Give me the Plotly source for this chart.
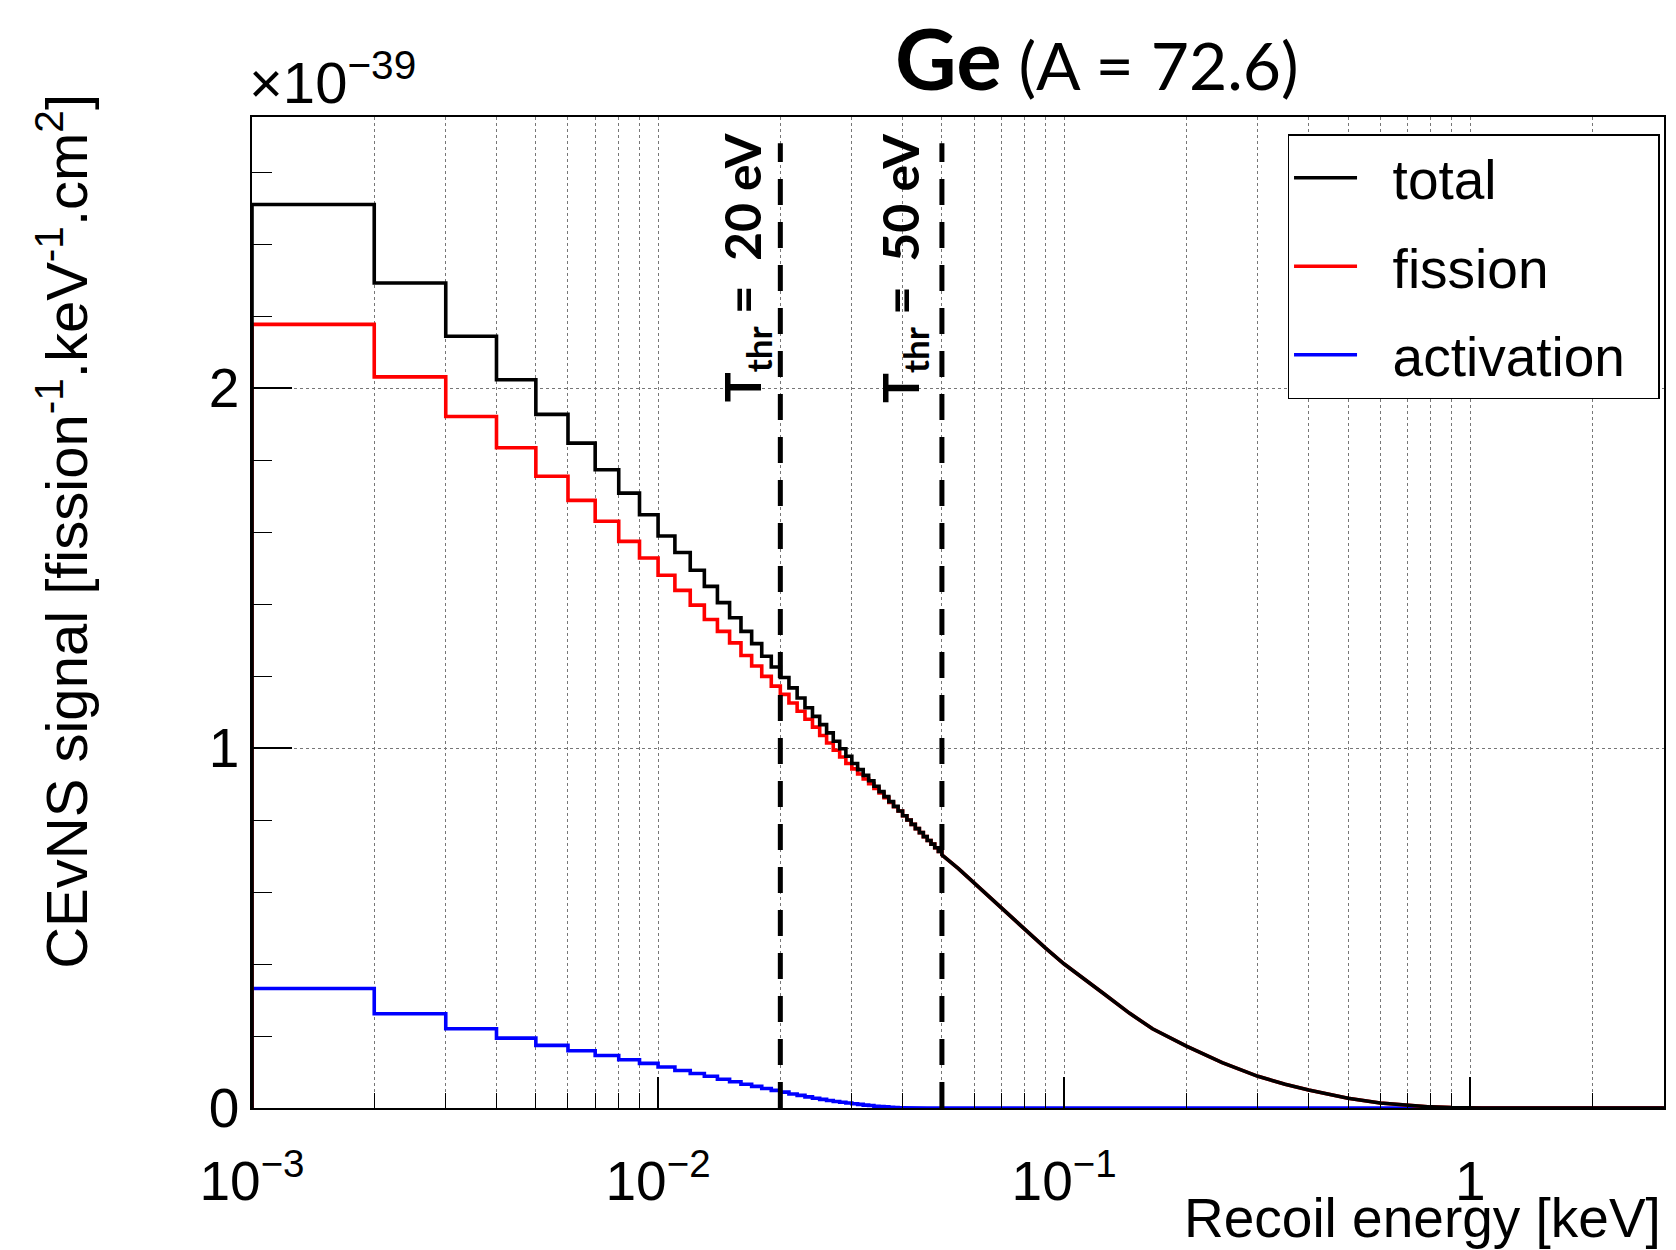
import math
import plotly.graph_objects as go

# ---------------- data (values in units of 1e-39 fission^-1 keV^-1 cm^2) ----------------
BIN_WIDTH_KEV = 0.001
BIN_LOW_KEV = [0.001, 0.002, 0.003, 0.004, 0.005, 0.006, 0.007, 0.008, 0.009, 0.010,
               0.011, 0.012, 0.013, 0.014, 0.015, 0.016, 0.017, 0.018, 0.019, 0.020,
               0.021, 0.022, 0.023, 0.024, 0.025, 0.026, 0.027, 0.028, 0.029, 0.030,
               0.031, 0.032, 0.033, 0.034, 0.035, 0.036, 0.037, 0.038, 0.039, 0.040,
               0.041, 0.042, 0.043, 0.044, 0.045, 0.046, 0.047, 0.048, 0.049]

TOTAL_BINS = [2.510, 2.292, 2.144, 2.023, 1.927, 1.847, 1.773, 1.708, 1.648, 1.589,
              1.543, 1.494, 1.449, 1.404, 1.362, 1.324, 1.290, 1.255, 1.225, 1.196,
              1.167, 1.139, 1.112, 1.088, 1.065, 1.042, 1.019, 0.998, 0.977, 0.957,
              0.940, 0.924, 0.909, 0.894, 0.879, 0.865, 0.851, 0.838, 0.825, 0.812,
              0.800, 0.788, 0.776, 0.765, 0.754, 0.743, 0.733, 0.723, 0.713]

FISSION_BINS = [2.177, 2.031, 1.921, 1.834, 1.755, 1.688, 1.630, 1.574, 1.528, 1.480,
                1.438, 1.397, 1.357, 1.324, 1.292, 1.257, 1.228, 1.199, 1.172, 1.149,
                1.125, 1.102, 1.080, 1.058, 1.035, 1.014, 0.994, 0.975, 0.957, 0.942,
                0.928, 0.914, 0.901, 0.888, 0.875, 0.862, 0.849, 0.837, 0.825, 0.812,
                0.800, 0.788, 0.776, 0.765, 0.754, 0.743, 0.733, 0.723, 0.713]

ACTIVATION_BINS = [0.332, 0.262, 0.220, 0.194, 0.174, 0.159, 0.146, 0.134, 0.124, 0.114,
                   0.104, 0.096, 0.088, 0.080, 0.073, 0.066, 0.060, 0.054, 0.049, 0.044,
                   0.039, 0.035, 0.031, 0.027, 0.024, 0.021, 0.018, 0.016, 0.014, 0.012,
                   0.010, 0.008, 0.007, 0.005, 0.004, 0.003, 0.002, 0.001, 0.0005, 0.0,
                   0.0, 0.0, 0.0, 0.0, 0.0, 0.0, 0.0, 0.0, 0.0]

# above 50 eV the 1-eV bins are too narrow to see: the curve is read point by point
TAIL_KEV = [0.05, 0.055, 0.06, 0.065, 0.07, 0.075, 0.08, 0.09, 0.10, 0.11, 0.125, 0.145,
            0.165, 0.20, 0.245, 0.30, 0.35, 0.40, 0.50, 0.60, 0.70, 0.80, 0.90, 1.00,
            1.07, 3.0]
TOTAL_TAIL = [0.703, 0.664, 0.625, 0.590, 0.556, 0.524, 0.495, 0.444, 0.400, 0.364, 0.318, 0.263,
              0.220, 0.172, 0.126, 0.088, 0.066, 0.050, 0.027, 0.014, 0.007, 0.003, 0.001, 0.0005,
              0.0, 0.0]
FISSION_TAIL = [0.703, 0.664, 0.625, 0.590, 0.556, 0.524, 0.495, 0.444, 0.400, 0.364, 0.318, 0.263,
                0.220, 0.172, 0.126, 0.088, 0.066, 0.050, 0.027, 0.014, 0.007, 0.003, 0.001, 0.0005,
                0.0, 0.0]
ACTIVATION_TAIL = [0.0, 0.0, 0.0, 0.0, 0.0, 0.0, 0.0, 0.0, 0.0, 0.0, 0.0, 0.0,
                   0.0, 0.0, 0.0, 0.0, 0.0, 0.0, 0.0, 0.0, 0.0, 0.0, 0.0, 0.0,
                   0.0, 0.0]

SERIES_NAMES = ["total", "fission", "activation"]
SERIES_COLORS = ["#000000", "#ff0000", "#0000ff"]

THRESHOLDS_KEV = [0.02, 0.05]
THRESHOLD_TEXT = ["<b>T<sub>thr</sub> =  20 eV</b>", "<b>T<sub>thr</sub> =  50 eV</b>"]

X_TICK_VALS = [0.001, 0.01, 0.1, 1]
X_TICK_TEXT = ["10<sup>\u22123</sup>", "10<sup>\u22122</sup>", "10<sup>\u22121</sup>", "1"]
Y_TICK_VALS = [0, 1, 2]
Y_TICK_TEXT = ["0", "1", "2"]
X_MAX_KEV = 3.0
Y_MAX = 2.753

# ---------------- layout constants ----------------
W, H = 1676, 1250
ML, MR, MT, MB = 252, 10, 117, 142
PW, PH = W - ML - MR, H - MT - MB
ROOT_FONT = "Liberation Sans, Arial, Helvetica, sans-serif"
PPT_FONT = "Lato, Open Sans, sans-serif"
NB = "\u00a0"


def px_x(px):
    return (px - ML) / PW


def px_y(py):
    return (H - MB - py) / PH


def hist_path(lows, vals, tail_x, tail_y):
    xs, ys = [lows[0]], [0.0]
    for lo, v in zip(lows, vals):
        xs += [lo, lo + BIN_WIDTH_KEV]
        ys += [v, v]
    return xs + list(tail_x), ys + list(tail_y)


fig = go.Figure()

series = [
    (TOTAL_BINS, TOTAL_TAIL),
    (FISSION_BINS, FISSION_TAIL),
    (ACTIVATION_BINS, ACTIVATION_TAIL),
]
# draw activation first, total last (total on top); legend keeps total/fission/activation order
for idx in [2, 1, 0]:
    bins, tail = series[idx]
    xs, ys = hist_path(BIN_LOW_KEV, bins, TAIL_KEV, tail)
    fig.add_trace(go.Scatter(
        x=xs, y=ys, mode="lines",
        name=NB * 2 + SERIES_NAMES[idx] + "\u2002",
        line=dict(color=SERIES_COLORS[idx], width=3.6),
        legendrank=idx + 1, legendgroup=SERIES_NAMES[idx],
        hoverinfo="skip",
    ))

DASH_TOP = 2.68
for thr in THRESHOLDS_KEV:
    fig.add_trace(go.Scatter(
        x=[thr, thr], y=[0, DASH_TOP], mode="lines", showlegend=False,
        line=dict(color="black", width=5, dash="26px,17px"), hoverinfo="skip",
    ))

minor_x = []
for dec in [0.001, 0.01, 0.1, 1.0]:
    for d in range(2, 10):
        v = d * dec
        if v < X_MAX_KEV * 0.999:
            minor_x.append(v)

GRID = "#777777"
fig.update_layout(
    width=W, height=H,
    margin=dict(l=ML, r=MR, t=MT, b=MB),
    paper_bgcolor="white", plot_bgcolor="white",
    font=dict(family=ROOT_FONT, color="black"),
    showlegend=True,
    legend=dict(
        x=px_x(1289), y=px_y(134), xanchor="left", yanchor="top",
        bgcolor="white", bordercolor="black", borderwidth=1.5,
        font=dict(family=ROOT_FONT, size=55, color="black"),
        tracegroupgap=14, itemwidth=63,
    ),
    xaxis=dict(
        type="log", range=[-3, math.log10(X_MAX_KEV)],
        tickmode="array", tickvals=X_TICK_VALS, ticktext=X_TICK_TEXT,
        ticks="inside", ticklen=31, tickwidth=1.5, tickcolor="black",
        tickfont=dict(family=ROOT_FONT, size=55),
        ticklabelstandoff=24,
        showgrid=True, gridcolor=GRID, gridwidth=1, griddash="dot",
        showline=True, linecolor="black", linewidth=1.5, mirror=True,
        zeroline=False,
        minor=dict(tickmode="array", tickvals=minor_x, ticks="inside", ticklen=15,
                   tickwidth=1.2, tickcolor="black",
                   showgrid=True, gridcolor=GRID, gridwidth=1, griddash="dot"),
    ),
    yaxis=dict(
        range=[0, Y_MAX],
        tickmode="array", tickvals=Y_TICK_VALS, ticktext=Y_TICK_TEXT,
        ticks="inside", ticklen=40, tickwidth=1.5, tickcolor="black",
        tickfont=dict(family=ROOT_FONT, size=55),
        showgrid=True, gridcolor=GRID, gridwidth=1, griddash="dot",
        showline=True, linecolor="black", linewidth=1.5, mirror=True,
        zeroline=False,
        minor=dict(dtick=0.2, tick0=0, ticks="inside", ticklen=20, tickwidth=1.2,
                   tickcolor="black", showgrid=False),
    ),
)

annotations = [
    # exponent of the y axis
    dict(text="\u00d710<sup>\u221239</sup>", xref="paper", yref="paper",
         x=px_x(247), y=px_y(117), xanchor="left", yanchor="bottom", showarrow=False,
         font=dict(family=ROOT_FONT, size=58)),
    # title
    dict(text="<b><span style='font-size:85px'>Ge</span></b> (A = 72.6)",
         xref="paper", yref="paper", x=px_x(1098), y=px_y(57),
         xanchor="center", yanchor="middle", showarrow=False,
         font=dict(family=PPT_FONT, size=66)),
    # x title
    dict(text="Recoil energy [keV]", xref="paper", yref="paper",
         x=px_x(1664), y=px_y(1218), xanchor="right", yanchor="middle",
         borderpad=0, showarrow=False,
         font=dict(family=ROOT_FONT, size=55)),
    # y title
    dict(text="CEvNS signal [fission<sup>-1</sup>.keV<sup>-1</sup>.cm<sup>2</sup>]",
         xref="paper", yref="paper", x=px_x(62), y=px_y(92),
         xanchor="center", yanchor="top", textangle=-90, showarrow=False,
         font=dict(family=ROOT_FONT, size=58)),
]
for thr, txt, shift in zip(THRESHOLDS_KEV, THRESHOLD_TEXT, [-35, -39]):
    annotations.append(dict(
        text=txt, xref="x", yref="paper", x=math.log10(thr), y=px_y(268),
        xshift=shift, xanchor="center", yanchor="middle", textangle=-90, showarrow=False,
        font=dict(family=PPT_FONT, size=50, color="black"),
    ))
fig.update_layout(annotations=annotations)

fig.write_html("out.html")
